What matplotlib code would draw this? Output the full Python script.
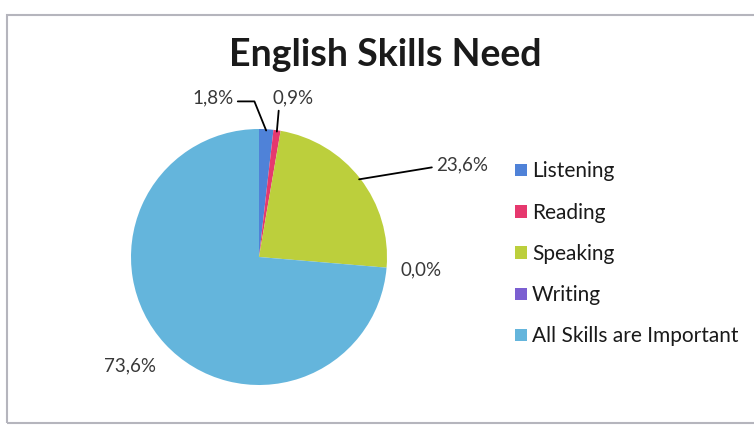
import numpy as np
import matplotlib
matplotlib.use("Agg")
import matplotlib.pyplot as plt
from matplotlib.patches import Rectangle

# data
skills = ["Listening", "Reading", "Speaking", "Writing", "All Skills are Important"]
shares = [1.8, 0.9, 23.6, 0.0, 73.6]
labels = ["1,8%", "0,9%", "23,6%", "0,0%", "73,6%"]
colors = ["#4f82d8", "#e6386e", "#bccf3c", "#7b5fd1", "#64b5dc"]

plt.rcParams["font.family"] = ["Lato", "DejaVu Sans"]

fig = plt.figure(figsize=(7.54, 4.28), dpi=100)
W, H = 754, 428

# chart frame
fig.patches.append(Rectangle((7 / W, 1 - 423 / H), 750 / W, 408 / H,
                             transform=fig.transFigure, fill=False,
                             edgecolor="#b5b5bd", lw=1.5))

fig.text(385 / W, 1 - 55 / H, "English Skills Need", ha="center", va="center",
         fontsize=27, fontweight="bold", color="#1a1a1a")

cx, cy, r = 259, 257, 128
ax = fig.add_axes([(cx - r) / W, (H - cy - r) / H, 2 * r / W, 2 * r / H])
wedges, _ = ax.pie(shares, colors=colors, startangle=90, counterclock=False,
                   radius=1.0, wedgeprops=dict(linewidth=0))
ax.set_xlim(-1, 1)
ax.set_ylim(-1, 1)
ax.set_aspect("equal")
ax.axis("off")

# label spots (pixel positions in the picture) and leader style
spots = [(213, 98), (293, 98), (462, 165), (421, 270), (130, 366)]
leaders = ["angle,angleA=0,angleB=112", "angle,angleA=180,angleB=85",
           "arc3,rad=0", None, None]
relpos = [(1.0, 0.3), (0.0, 0.3), (0.0, 0.4), None, None]
txt_color = "#383838"

cum = np.cumsum([0] + shares[:-1])
for i, lab in enumerate(labels):
    tx = (spots[i][0] - cx) / r
    ty = (cy - spots[i][1]) / r
    mid = np.deg2rad(90 - (cum[i] + shares[i] / 2) * 3.6)
    edge = (np.cos(mid) * 0.99, np.sin(mid) * 0.99)
    if leaders[i]:
        ax.annotate(lab, xy=edge, xytext=(tx, ty), ha="center", va="center",
                    fontsize=13.5, color=txt_color, annotation_clip=False,
                    arrowprops=dict(arrowstyle="-", color="black", lw=1.3,
                                    shrinkA=1, shrinkB=0, relpos=relpos[i],
                                    connectionstyle=leaders[i]))
    else:
        ax.text(tx, ty, lab, ha="center", va="center", fontsize=13.5,
                color=txt_color, clip_on=False)

leg = fig.legend(wedges, skills, loc="upper left",
                 bbox_to_anchor=(505 / W, 1 - 151 / H), frameon=False,
                 fontsize=15, handlelength=0.55, handleheight=0.55,
                 handletextpad=0.25, labelspacing=1.02, borderpad=0)
for t in leg.get_texts():
    t.set_color("#1a1a1a")

fig.savefig("out.png", dpi=100)
